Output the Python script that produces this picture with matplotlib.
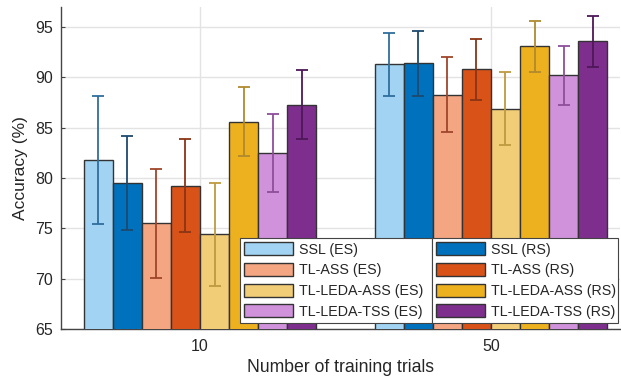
import numpy as np
import matplotlib
matplotlib.use("Agg")
import matplotlib.pyplot as plt

plt.rcParams['font.family'] = ['Liberation Sans', 'DejaVu Sans']
plt.rcParams['text.color'] = '#262626'
plt.rcParams['axes.labelcolor'] = '#262626'
plt.rcParams['xtick.labelcolor'] = '#262626'
plt.rcParams['ytick.labelcolor'] = '#262626'

# data
groups = ['10', '50']
methods = ['SSL (ES)', 'SSL (RS)', 'TL-ASS (ES)', 'TL-ASS (RS)',
           'TL-LEDA-ASS (ES)', 'TL-LEDA-ASS (RS)', 'TL-LEDA-TSS (ES)', 'TL-LEDA-TSS (RS)']
acc_10 = [81.8, 79.5, 75.5, 79.25, 74.4, 85.6, 82.5, 87.3]
std_10 = [6.4, 4.7, 5.4, 4.65, 5.1, 3.4, 3.85, 3.4]
acc_50 = [91.3, 91.4, 88.3, 90.8, 86.9, 93.1, 90.2, 93.6]
std_50 = [3.15, 3.2, 3.7, 3.05, 3.65, 2.55, 2.95, 2.55]

bar_colors = ['#A2D3F2', '#0072BD', '#F4A582', '#D95319',
              '#F1CD78', '#EDB120', '#D093DB', '#7E2F8E']
err_colors = ['#2E6E9E', '#1D4A6E', '#A0452A', '#8A3516',
              '#BE9A40', '#B08A2E', '#8E4E9A', '#4E1858']

means = np.array([acc_10, acc_50])
stds = np.array([std_10, std_50])

fig = plt.figure(figsize=(6.21, 3.78), dpi=100)
ax = fig.add_axes([0.0982, 0.1296, 0.8998, 0.852])

x = np.arange(len(groups))
w = 0.1
handles = []
for i in range(len(methods)):
    pos = x - 0.35 + i * w
    b = ax.bar(pos, means[:, i], w, color=bar_colors[i], edgecolor='#333333',
               linewidth=1.0, label=methods[i], zorder=3)
    ax.errorbar(pos, means[:, i], yerr=stds[:, i], fmt='none', ecolor=err_colors[i],
                elinewidth=1.3, capsize=4, capthick=1.3, zorder=4)
    handles.append(b)

ax.set_xlim(-0.478, 1.443)
ax.set_ylim(65, 97)
ax.set_xticks(x)
ax.set_xticklabels(groups)
ax.set_yticks(np.arange(65, 96, 5))
ax.tick_params(axis='both', labelsize=11.5, direction='in', length=3, color='#444444')
ax.tick_params(axis='x', pad=7)
ax.tick_params(axis='y', pad=6)
ax.set_xlabel('Number of training trials', fontsize=12.7, labelpad=4)
ax.set_ylabel('Accuracy (%)', fontsize=12.5, labelpad=5)
ax.grid(True, color='#E3E3E3', linewidth=1.0, zorder=0)
ax.set_axisbelow(True)
for s in ['top', 'right']:
    ax.spines[s].set_visible(False)
for s in ['left', 'bottom']:
    ax.spines[s].set_color('#444444')
    ax.spines[s].set_linewidth(1.0)

leg_kw = dict(loc='upper left', mode='expand', fontsize=10.3, handlelength=3.4,
              handleheight=1.0, labelspacing=0.45, handletextpad=0.4,
              borderpad=0.3, borderaxespad=0, fancybox=False, framealpha=1,
              edgecolor='#444444', bbox_transform=fig.transFigure)
leg1 = ax.legend(handles[0::2], methods[0::2],
                 bbox_to_anchor=(0.3865, 0.3704, 0.3092, 0.0), **leg_kw)
leg1.get_frame().set_linewidth(0.8)
ax.add_artist(leg1)
leg2 = ax.legend(handles[1::2], methods[1::2],
                 bbox_to_anchor=(0.6957, 0.3704, 0.2995, 0.0), **leg_kw)
leg2.get_frame().set_linewidth(0.8)
leg1.set_zorder(10)
leg2.set_zorder(10)

fig.savefig('out.png', dpi=100)
